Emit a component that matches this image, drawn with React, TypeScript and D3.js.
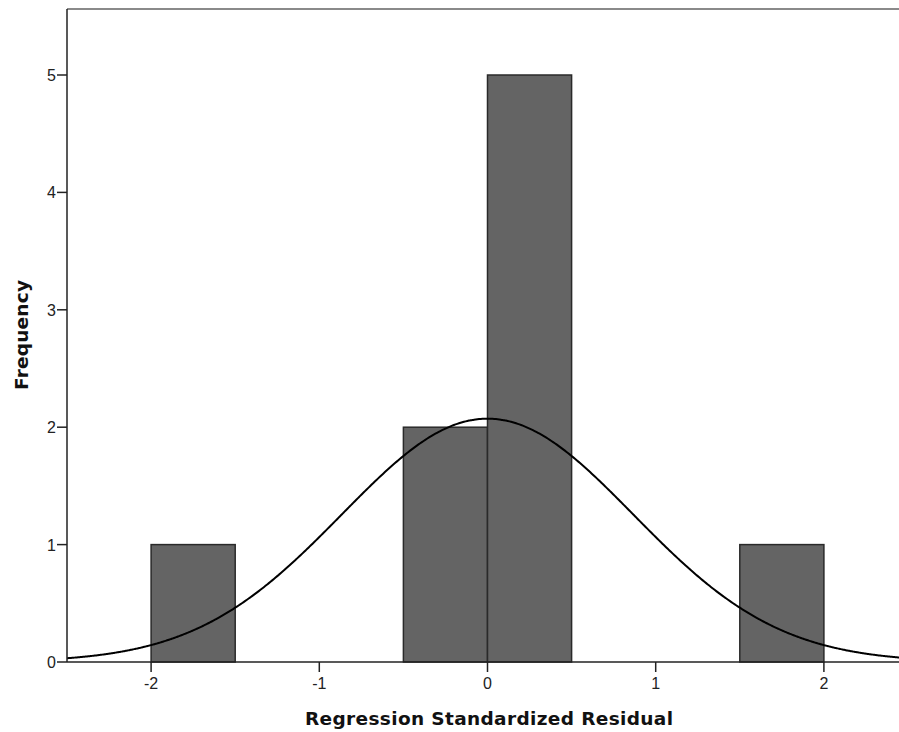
import React from "react";
import * as d3 from "d3";

const binStarts = [-2, -0.5, 0, 1.5];
const binEnds = [-1.5, 0, 0.5, 2];
const frequencies = [1, 2, 5, 1];
const xTicks = [-2, -1, 0, 1, 2];
const yTicks = [0, 1, 2, 3, 4, 5];
const curveMean = 0;
const curveSd = 0.866;
const sampleN = 9;
const binWidth = 0.5;

export default function App() {
  const W = 899, H = 732;
  const left = 67, right = 908, top = 9, bottom = 662;
  const x = d3.scaleLinear().domain([-2.5, 2.5]).range([left, right]);
  const y = d3.scaleLinear().domain([0, (bottom - top) / 117.4]).range([bottom, top]);
  const pts = d3.range(-2.5, 2.5001, 0.01).map((v) => [
    v,
    (sampleN * binWidth) / (curveSd * Math.sqrt(2 * Math.PI)) *
      Math.exp(-((v - curveMean) ** 2) / (2 * curveSd * curveSd)),
  ]);
  const line = d3.line<number[]>().x((d) => x(d[0])).y((d) => y(d[1])).curve(d3.curveMonotoneX);
  const font = "Arial, 'Liberation Sans', sans-serif";
  const tfont = "'DejaVu Sans', Verdana, sans-serif";
  return (
    <svg width={W} height={H} style={{ position: "absolute", left: 0, top: 0, background: "#fff" }}>
      <line x1={left} x2={W} y1={top} y2={top} stroke="#8a8a8a" strokeWidth={2} />
      {frequencies.map((f, i) => (
        <rect key={i} x={x(binStarts[i])} y={y(f)} width={x(binEnds[i]) - x(binStarts[i])}
          height={y(0) - y(f)} fill="#646464" stroke="#2a2a2a" strokeWidth={1.5} />
      ))}
      <path d={line(pts) || ""} fill="none" stroke="#000" strokeWidth={2} />
      <line x1={left} x2={left} y1={top} y2={bottom} stroke="#222" strokeWidth={1.5} />
      <line x1={left} x2={W} y1={bottom} y2={bottom} stroke="#222" strokeWidth={1.5} />
      {yTicks.map((t) => (
        <g key={t}>
          <line x1={left - 10} x2={left} y1={y(t)} y2={y(t)} stroke="#222" strokeWidth={1.5} />
          <text x={left - 11} y={y(t) + 6} textAnchor="end" fontFamily={font} fontSize={16} fill="#222">{t}</text>
        </g>
      ))}
      {xTicks.map((t) => (
        <g key={t}>
          <line x1={x(t)} x2={x(t)} y1={bottom} y2={bottom + 10} stroke="#222" strokeWidth={1.5} />
          <text x={x(t)} y={bottom + 27} textAnchor="middle" fontFamily={font} fontSize={16} fill="#222">{t}</text>
        </g>
      ))}
      <text x={489} y={725} textAnchor="middle" fontFamily={tfont} fontSize={18.5} fontWeight="bold" fill="#111"
        textLength={368} lengthAdjust="spacing">Regression Standardized Residual</text>
      <text transform="translate(28,335) rotate(-90)" textAnchor="middle" fontFamily={tfont} fontSize={18.5} fontWeight="bold" fill="#111"
        textLength={110} lengthAdjust="spacing">Frequency</text>
    </svg>
  );
}
